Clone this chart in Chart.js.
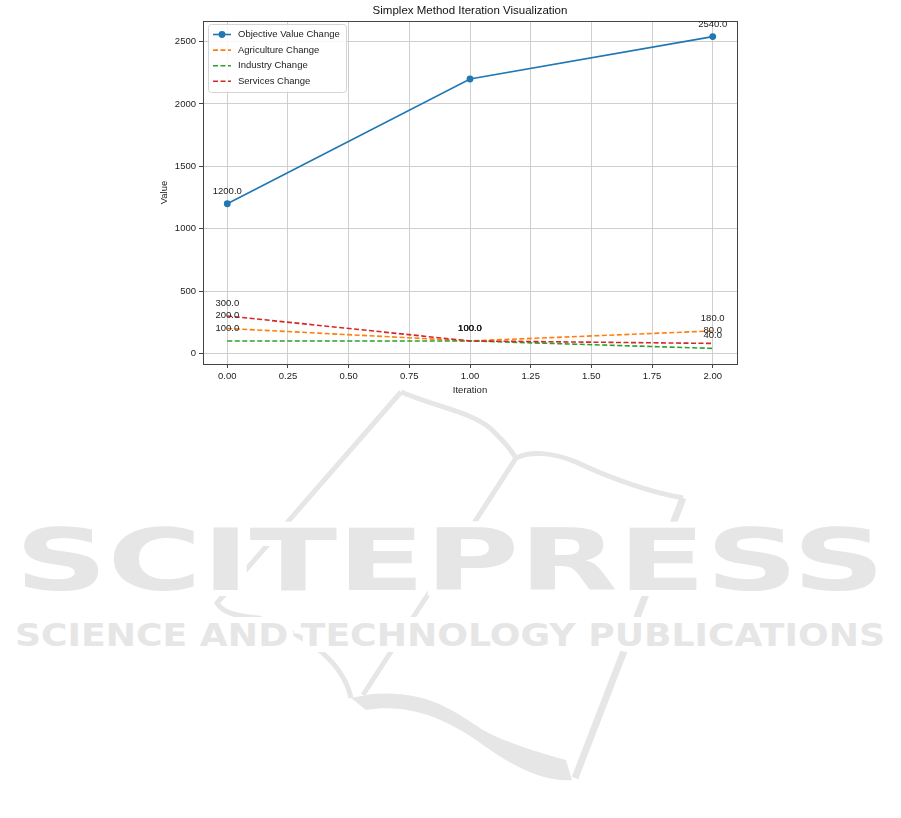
<!DOCTYPE html>
<html>
<head>
<meta charset="utf-8">
<script src="https://cdn.jsdelivr.net/npm/chart.js@4.4.1/dist/chart.umd.min.js"></script>
<style>
    html, body { margin: 0; padding: 0; background: #ffffff; }
    #page { position: relative; width: 901px; height: 818px; overflow: hidden; }
    #mark { position: absolute; left: 0; top: 0; z-index: 0; }
    #plot { position: absolute; left: 0; top: 0; z-index: 1; }
</style>
</head>
<body>
<div id="page">
    <!-- publisher watermark behind the figure -->
    <svg id="mark" width="901" height="818" viewBox="0 0 901 818">
        <g fill="none" stroke="#e6e6e6" stroke-width="5" stroke-linejoin="round">
            <path d="M401,392 L217,603 Q224,616 259,618 Q340,648 351,698"/>
            <path d="M401,392 C440,408 470,412 490,428 Q508,445 516,458"/>
            <path d="M516,458 C530,451 552,452 576,462 C610,478 650,492 683,498"/>
            <path d="M516,458 L363,695"/>
            <path d="M683,498 L575,778" stroke-width="7"/>
        </g>
        <path d="M351,698 L366,710 C405,704 440,714 483,745 C515,768 545,782 572,780 L566,760 C535,752 505,742 483,730 C450,708 425,690 372,694 Z" fill="#e6e6e6"/>
        <g font-family="DejaVu Sans" font-weight="bold" fill="#e6e6e6" stroke="#ffffff" stroke-width="12" paint-order="stroke">
            <text x="15" y="590" font-size="86" textLength="870" lengthAdjust="spacingAndGlyphs">SCITEPRESS</text>
            <text x="15" y="646" font-size="32" textLength="870" lengthAdjust="spacingAndGlyphs">SCIENCE AND TECHNOLOGY PUBLICATIONS</text>
        </g>
    </svg>
    <canvas id="plot" width="901" height="400"></canvas>
</div>
<script>
// chart data
const iterations = [0, 1, 2];
const objectiveValues = [1200, 2200, 2540];
const agricultureValues = [200, 100, 180];
const industryValues = [100, 100, 40];
const servicesValues = [300, 100, 80];
const xTicks = [0, 0.25, 0.5, 0.75, 1.0, 1.25, 1.5, 1.75, 2.0];
const yTicks = [0, 500, 1000, 1500, 2000, 2500];
// the objective line is only annotated at its first and last point
const objectiveLabelled = [0, 2];

const FONT = "'Liberation Sans', Arial, sans-serif";
const TITLE = 'Simplex Method Iteration Visualization';

function toPoints(values) {
    return iterations.map((x, i) => ({ x: x, y: values[i] }));
}

function makeSeries(label, values, color, dashed, order, labelled) {
    return {
        label: label,
        data: toPoints(values),
        labelled: labelled || iterations.map((x, i) => i),
        borderColor: color,
        backgroundColor: color,
        borderWidth: 1.6,
        borderDash: dashed ? [5, 2.5] : [],
        pointRadius: dashed ? 0 : 3.4,
        pointHoverRadius: dashed ? 0 : 3.4,
        pointBorderWidth: 0,
        tension: 0,
        order: order
    };
}

// title over the plot area plus top and right spines
const framePlugin = {
    id: 'frame',
    afterDatasetsDraw(chart) {
        const { ctx, chartArea } = chart;
        ctx.save();
        ctx.strokeStyle = '#444';
        ctx.lineWidth = 1;
        ctx.strokeRect(Math.round(chartArea.left) + 0.5, Math.round(chartArea.top) + 0.5,
            Math.round(chartArea.right - chartArea.left), Math.round(chartArea.bottom - chartArea.top));
        ctx.font = '11.5px ' + FONT;
        ctx.fillStyle = '#111';
        ctx.textAlign = 'center';
        ctx.textBaseline = 'middle';
        ctx.fillText(TITLE, (chartArea.left + chartArea.right) / 2, 11);
        ctx.restore();
    }
};

// value text over the points
const valueLabelPlugin = {
    id: 'valueLabels',
    afterDraw(chart) {
        const ctx = chart.ctx;
        ctx.save();
        ctx.font = '9.5px ' + FONT;
        ctx.fillStyle = '#222';
        ctx.textAlign = 'center';
        ctx.textBaseline = 'alphabetic';
        chart.data.datasets.forEach((ds, di) => {
            chart.getDatasetMeta(di).data.forEach((pt, i) => {
                if (ds.labelled.indexOf(i) < 0) return;
                ctx.fillText(ds.data[i].y.toFixed(1), pt.x, pt.y - 10);
            });
        });
        ctx.restore();
    }
};

// legend box inside upper left corner
const boxLegendPlugin = {
    id: 'boxLegend',
    afterDraw(chart) {
        const ctx = chart.ctx;
        const area = chart.chartArea;
        const x0 = area.left + 5, y0 = area.top + 3;
        const w = 138, h = 68;
        ctx.save();
        ctx.beginPath();
        ctx.roundRect(x0 + 0.5, y0 + 0.5, w, h, 3);
        ctx.fillStyle = 'rgba(255,255,255,0.85)';
        ctx.fill();
        ctx.strokeStyle = '#d4d4d4';
        ctx.lineWidth = 1;
        ctx.stroke();
        ctx.font = '9.5px ' + FONT;
        ctx.textBaseline = 'middle';
        chart.data.datasets.forEach((ds, i) => {
            const y = y0 + 10.5 + i * 15.6;
            ctx.strokeStyle = ds.borderColor;
            ctx.lineWidth = 1.6;
            ctx.setLineDash(ds.borderDash);
            ctx.beginPath();
            ctx.moveTo(x0 + 5, y);
            ctx.lineTo(x0 + 23, y);
            ctx.stroke();
            ctx.setLineDash([]);
            if (ds.pointRadius > 0) {
                ctx.fillStyle = ds.borderColor;
                ctx.beginPath();
                ctx.arc(x0 + 14, y, 3.4, 0, Math.PI * 2);
                ctx.fill();
            }
            ctx.fillStyle = '#222';
            ctx.fillText(ds.label, x0 + 30, y);
        });
        ctx.restore();
    }
};

new Chart(document.getElementById('plot'), {
    type: 'line',
    data: {
        datasets: [
            makeSeries('Objective Value Change', objectiveValues, '#1f77b4', false, 4, objectiveLabelled),
            makeSeries('Agriculture Change', agricultureValues, '#ff7f0e', true, 3),
            makeSeries('Industry Change', industryValues, '#2ca02c', true, 2),
            makeSeries('Services Change', servicesValues, '#d62728', true, 1)
        ]
    },
    options: {
        responsive: false,
        animation: false,
        events: [],
        layout: { padding: { left: 150, right: 164, top: 21, bottom: 0 } },
        plugins: {
            legend: { display: false },
            tooltip: { enabled: false },
            title: { display: false }
        },
        scales: {
            x: {
                type: 'linear',
                min: -0.1,
                max: 2.1,
                afterFit(scale) { scale.height = 36; },
                afterBuildTicks(scale) { scale.ticks = xTicks.map(v => ({ value: v })); },
                grid: { color: '#cfcfcf', tickColor: '#444', tickLength: 4 },
                border: { color: '#444', width: 1 },
                ticks: {
                    padding: 3,
                    color: '#222',
                    font: { family: FONT, size: 9.5 },
                    maxRotation: 0,
                    callback: v => v.toFixed(2)
                },
                title: {
                    display: true,
                    text: 'Iteration',
                    color: '#222',
                    font: { family: FONT, size: 9.5 },
                    padding: { top: 4, bottom: 4 }
                }
            },
            y: {
                type: 'linear',
                min: -85,
                max: 2665,
                afterFit(scale) { scale.width = 53; },
                afterBuildTicks(scale) { scale.ticks = yTicks.map(v => ({ value: v })); },
                grid: { color: '#cfcfcf', tickColor: '#444', tickLength: 4 },
                border: { color: '#444', width: 1 },
                ticks: {
                    padding: 3,
                    color: '#222',
                    font: { family: FONT, size: 9.5 },
                    callback: v => String(v)
                },
                title: {
                    display: true,
                    text: 'Value',
                    color: '#222',
                    font: { family: FONT, size: 9.5 },
                    padding: { top: 9, bottom: 0 }
                }
            }
        }
    },
    plugins: [framePlugin, valueLabelPlugin, boxLegendPlugin]
});
</script>
</body>
</html>
